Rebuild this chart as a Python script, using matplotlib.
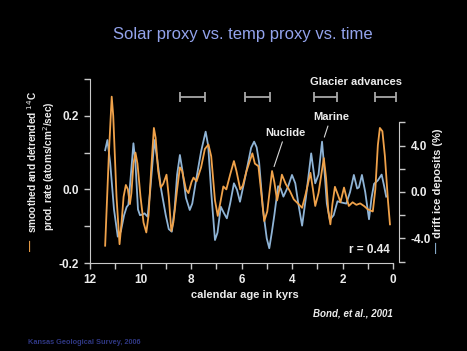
import matplotlib
matplotlib.use("Agg")
import matplotlib.pyplot as plt
import numpy as np

# ---------------- data ----------------
nuclide_age = [11.40, 11.25, 11.14, 11.08, 10.95, 10.83, 10.75, 10.67, 10.58, 10.50,
               10.42, 10.36, 10.28, 10.20, 10.12, 10.00, 9.88, 9.77, 9.68, 9.58,
               9.47, 9.40, 9.30, 9.20, 9.10, 8.97, 8.88, 8.78, 8.70, 8.55,
               8.44, 8.35, 8.20, 8.10, 7.98, 7.90, 7.78, 7.60, 7.45, 7.31,
               7.20, 7.05, 6.94, 6.85, 6.72, 6.60, 6.45, 6.30, 6.20, 6.05,
               5.95, 5.80, 5.68, 5.57, 5.47, 5.33, 5.20, 5.10, 4.98, 4.79,
               4.70, 4.59, 4.50, 4.40, 4.25, 4.08, 3.93, 3.74, 3.60, 3.45,
               3.27, 3.17, 3.08, 2.95, 2.74, 2.65, 2.56, 2.48, 2.40, 2.30,
               2.18, 2.08, 1.94, 1.85, 1.75, 1.60, 1.45, 1.30, 1.15, 1.00,
               0.80, 0.70, 0.60, 0.52, 0.42, 0.32, 0.20, 0.12]
nuclide_val = [-0.153, 0.100, 0.252, 0.200, -0.020, -0.149, -0.090, -0.020, 0.012, 0.000,
               -0.040, -0.010, 0.070, 0.100, 0.070, -0.020, -0.090, -0.117, -0.070, 0.050,
               0.167, 0.140, 0.050, 0.005, 0.015, 0.040, -0.020, -0.113, -0.090, 0.000,
               0.060, 0.050, 0.000, -0.010, 0.020, 0.032, 0.022, 0.060, 0.110, 0.122,
               0.090, -0.030, -0.072, -0.040, 0.008, 0.000, 0.040, 0.077, 0.050, 0.000,
               0.010, 0.050, 0.075, 0.098, 0.070, 0.063, -0.020, -0.086, -0.060, 0.050,
               0.020, -0.030, 0.000, 0.040, 0.015, -0.005, -0.027, -0.040, -0.050, -0.010,
               0.045, 0.000, -0.045, -0.010, 0.085, 0.030, -0.060, -0.095, -0.040, 0.007,
               -0.015, -0.035, 0.005, -0.020, -0.045, -0.035, -0.042, -0.038, -0.045, -0.054,
               -0.060, 0.000, 0.120, 0.167, 0.158, 0.090, -0.030, -0.095]

marine_age = [11.40, 11.31, 11.20, 11.05, 10.90, 10.78, 10.65, 10.55, 10.48, 10.38,
              10.28, 10.20, 10.10, 10.02, 9.93, 9.84, 9.72, 9.62, 9.45, 9.35,
              9.18, 9.00, 8.88, 8.76, 8.65, 8.55, 8.44, 8.35, 8.20, 8.05,
              7.95, 7.80, 7.60, 7.42, 7.32, 7.20, 7.05, 6.95, 6.82, 6.70,
              6.58, 6.45, 6.30, 6.18, 6.06, 5.90, 5.75, 5.62, 5.50, 5.40,
              5.30, 5.15, 5.00, 4.90, 4.80, 4.70, 4.55, 4.45, 4.34, 4.15,
              4.00, 3.87, 3.75, 3.60, 3.45, 3.24, 3.08, 2.95, 2.81, 2.72,
              2.62, 2.50, 2.35, 2.20, 2.05, 1.85, 1.70, 1.55, 1.42, 1.35,
              1.23, 1.10, 0.95, 0.85, 0.75, 0.60, 0.45, 0.35, 0.27]
marine_val = [3.6, 4.48, 2.5, -1.5, -3.85, -3.4, -2.0, -1.3, -1.1, 1.5,
              4.2, 2.5, -1.5, -2.0, -1.95, -1.84, -2.13, 0.0, 4.48, 3.0,
              0.2, -2.0, -3.2, -3.42, -1.5, 1.5, 3.19, 2.0, -0.5, -1.55,
              -1.0, 1.0, 3.5, 5.2, 4.0, 0.0, -4.14, -3.5, -1.27, -1.8,
              -2.27, -1.0, 0.75, 0.2, -0.84, 0.8, 2.4, 3.8, 4.34, 3.85,
              2.5, -1.5, -4.0, -4.85, -3.5, -2.0, 0.5, 0.3, -0.4, 0.5,
              1.47, 0.75, -1.0, -2.9, -0.5, 3.33, 0.75, 1.5, 4.34, 2.0,
              -1.0, -2.4, -2.0, -0.8, -0.9, -1.0, 0.0, 1.47, 0.3, 0.4,
              1.47, 0.0, -2.35, -0.5, 0.7, 1.0, 1.5, 0.5, -0.4]

glacier_center = [7.95, 5.37, 2.67, 0.29]
glacier_halfwidth = [0.50, 0.50, 0.44, 0.42]
glacier_level = 0.251

x_ticks = [12, 10, 8, 6, 4, 2, 0]
left_ticks = [-0.2, 0.0, 0.2]
right_ticks = [-4.0, 0.0, 4.0]
r_text = "r = 0.44"

# ---------------- style ----------------
W, H = 467, 351
ORANGE = "#f0a24a"
BLUE = "#8fb4d6"
SPINE = "#c8c8c8"
TXT = "#ececec"
NARROW = ["Liberation Sans Narrow", "Liberation Sans", "DejaVu Sans"]
SANS = ["Liberation Sans", "DejaVu Sans"]

fig = plt.figure(figsize=(W / 100, H / 100), dpi=100, facecolor="black")

def fx(px):
    return px / W

def fy(py):
    return 1 - py / H

xl = (12.0, -0.25)
ax_left_px, ax_right_px = 90, 393 + 0.25 * 25.25
ax = fig.add_axes([fx(ax_left_px), fy(263), (ax_right_px - ax_left_px) / W, (263 - 79) / H])
ax.set_facecolor("black")
ax2 = ax.twinx()

# blue (marine) on right axis
ax2.plot(marine_age, marine_val, color=BLUE, lw=1.3, solid_joinstyle="round")
ax2.set_ylim(-6.12, 9.74)
ax2.set_xlim(*xl)

# orange (nuclide) on left axis, drawn on top
ax.plot(nuclide_age, nuclide_val, color=ORANGE, lw=1.3, solid_joinstyle="round")
ax.set_ylim(-0.2, 0.3)
ax.set_xlim(*xl)
ax.set_zorder(ax2.get_zorder() + 1)
ax.patch.set_visible(False)

# glacier advances
ax.errorbar(glacier_center, [glacier_level] * len(glacier_center), xerr=glacier_halfwidth,
            fmt="none", ecolor="#a8a8a8", elinewidth=1.3, capsize=3.8, capthick=1.3)
ax.text(1.47, 0.292, "Glacier advances", color=TXT, fontsize=8, fontweight="bold",
        family=NARROW, ha="center", va="center")

# spines
for a in (ax, ax2):
    a.spines["top"].set_visible(False)
ax.spines["right"].set_visible(False)
ax2.spines["left"].set_visible(False)
ax2.spines["bottom"].set_visible(False)
ax.spines["left"].set_color(SPINE)
ax.spines["bottom"].set_color(SPINE)
ax2.spines["right"].set_color(SPINE)
ax.spines["bottom"].set_bounds(12, 0)
ax.spines["left"].set_bounds(-0.2, 0.3)
ax2.spines["right"].set_bounds(-6, 6)

ax.set_xticks(np.arange(0, 13, 1), minor=True)
ax.set_xticks(x_ticks)
ax.set_xticklabels([str(t) for t in x_ticks])
ax.set_yticks(np.arange(-0.2, 0.31, 0.1), minor=True)
ax.set_yticks(left_ticks)
ax.set_yticklabels([f"{t:.1f}" for t in left_ticks])
ax2.set_yticks(np.arange(-6, 7, 2), minor=True)
ax2.set_yticks(right_ticks)
ax2.set_yticklabels([f"{t:.1f}" for t in right_ticks])

for a in (ax, ax2):
    a.tick_params(which="both", colors=SPINE, length=4, width=1, direction="out",
                  labelcolor=TXT, labelsize=8.5, pad=4)
for lab in ax.get_xticklabels() + ax.get_yticklabels() + ax2.get_yticklabels():
    lab.set_fontweight("bold")
    lab.set_family(NARROW)

ax.set_xlabel("calendar age in kyrs", color=TXT, fontsize=8, fontweight="bold",
              family=NARROW, labelpad=3)

# annotations
ax.annotate("Nuclide", xy=(4.71, 0.062), xytext=(4.26, 0.154), color=TXT, fontsize=8,
            fontweight="bold", family=SANS, ha="center", va="center",
            arrowprops=dict(arrowstyle="-", color="#d8d8d8", lw=0.8, shrinkA=1, shrinkB=0))
ax.annotate("Marine", xy=(2.72, 0.142), xytext=(2.46, 0.197), color=TXT, fontsize=8,
            fontweight="bold", family=SANS, ha="center", va="center",
            arrowprops=dict(arrowstyle="-", color="#d8d8d8", lw=0.8, shrinkA=1, shrinkB=0))
ax.text(0.12, -0.165, r_text, color=TXT, fontsize=8.5, fontweight="bold", family=SANS,
        ha="right", va="center")

# figure texts
fig.text(0.52, fy(35), "Solar proxy vs. temp proxy vs. time", color="#93a3ec", fontsize=12,
         family=SANS, ha="center", va="center")

fig.text(fx(32), fy(233), "smoothed and detrended $^{14}$C", color=TXT, fontsize=7.3,
         fontweight="bold", family=NARROW, rotation=90, ha="center", va="bottom")
fig.text(fx(32), fy(251), "\u2014", color=ORANGE, fontsize=8, fontweight="bold",
         family=NARROW, rotation=90, ha="center", va="bottom")
fig.text(fx(49), fy(231), "prod. rate (atoms/cm$^2$/sec)", color=TXT, fontsize=7.3,
         fontweight="bold", family=NARROW, rotation=90, ha="center", va="bottom")

fig.text(fx(438), fy(238), "drift ice deposits (%)", color=TXT, fontsize=8,
         fontweight="bold", family=NARROW, rotation=90, ha="center", va="bottom")
fig.text(fx(438), fy(253), "\u2014", color=BLUE, fontsize=8, fontweight="bold",
         family=NARROW, rotation=90, ha="center", va="bottom")

fig.text(fx(393), fy(313), "Bond, et al., 2001", color=TXT, fontsize=7, fontweight="bold",
         style="italic", family=SANS, ha="right", va="center")
fig.text(fx(28), fy(343), "Kansas Geological Survey, 2006", color="#2f3782", fontsize=5.3,
         fontweight="bold", family=SANS, ha="left", va="center")

fig.savefig("out.png", dpi=100, facecolor="black")
